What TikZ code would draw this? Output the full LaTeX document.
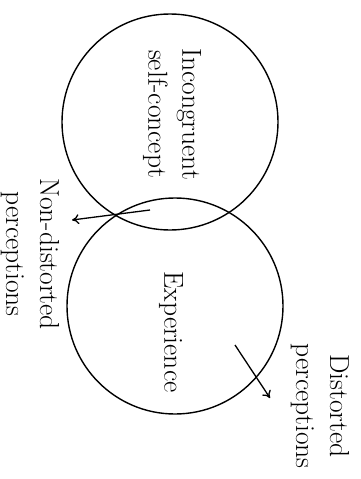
\documentclass[tikz,border=0pt]{standalone}
\usepackage{tikz}
\usetikzlibrary{arrows.meta}

\begin{document}
\begin{tikzpicture}[
        x=1pt, y=-1pt,
        setCircle/.style={circle, draw=black, line width=1.4pt, minimum size=216pt, inner sep=0pt},
        sideText/.style={rotate=-90, align=center, font=\fontsize{27.5}{34}\selectfont, inner sep=0pt},
        arrowStyle/.style={-{To[length=7pt,width=10pt]}, line width=1.3pt, draw=black}
    ]
        \useasboundingbox (0,0) rectangle (361,479);

        % Circles
        \node[setCircle] (selfCircle) at (170,122) {};
        \node[setCircle] (expCircle) at (175,306) {};

        % Labels inside
        \node[sideText] (selfLabel) at (172,114) {Incongruent\\self-concept};
        \node[sideText] (expLabel) at (171,332) {Experience};

        % Outside labels
        \node[sideText] (nonDist) at (30,254) {Non-distorted\\perceptions};
        \node[sideText] (dist) at (320,406) {Distorted\\perceptions};

        % Arrows
        \coordinate (nonStart) at (150,210);
        \coordinate (nonEnd) at (72,220);
        \coordinate (distStart) at (235,345);
        \coordinate (distEnd) at (270,398);
        \draw[arrowStyle] (nonStart) -- (nonEnd);
        \draw[arrowStyle] (distStart) -- (distEnd);
\end{tikzpicture}
\end{document}
